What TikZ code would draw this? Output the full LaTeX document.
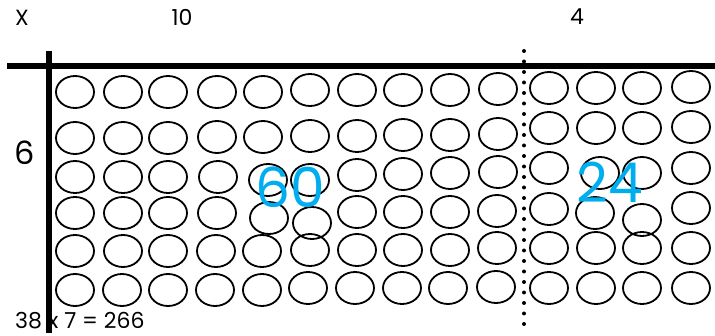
\documentclass[tikz,border=0pt]{standalone}
\usepackage{fontspec}
\setmainfont{Poppins}
\usepackage{xcolor}
\usepackage{tikz}
\usetikzlibrary{shapes.geometric}
\definecolor{countBlue}{HTML}{00AEEF}

\begin{document}
\begin{tikzpicture}[x=1pt, y=-1pt,
    bead/.style={ellipse, draw=black, line width=1.8pt, minimum width=38pt, minimum height=32pt, inner sep=0pt},
    factor/.style={font=\fontsize{22}{26}\selectfont, inner sep=0pt},
    part/.style={font=\fontsize{55}{60}\selectfont, text=countBlue, inner sep=0pt},
    bar/.style={line width=5.5pt}
  ]
  \useasboundingbox (0,0) rectangle (715,336);

  % === Beads ===
  \foreach \x/\y [count=\c] in {75/92, 123/92, 168/92, 217/92, 263/92, 310/90, 357/90, 403/90, 450/90, 498/89, 549/88, 596/88, 642/88, 691/87}
    \node[bead] (r1-\c) at (\x,\y) {};
  \foreach \x/\y [count=\c] in {75/138, 123/138, 168/138, 217/137, 263/137, 310/136, 357/136, 403/135, 450/135, 498/134, 549/128, 596/128, 642/128, 691/127}
    \node[bead] (r2-\c) at (\x,\y) {};
  \foreach \x/\y [count=\c] in {75/177, 123/177, 168/177, 218/177, 268/180, 310/180, 357/175, 403/174, 450/173, 498/172, 549/168, 600/173, 642/173, 691/168}
    \node[bead] (r3-\c) at (\x,\y) {};
  \foreach \x/\y [count=\c] in {75/213, 123/213, 168/213, 217/213, 269/218, 312/223, 357/212, 403/212, 450/212, 497/211, 549/209, 595/213, 642/220, 691/208}
    \node[bead] (r4-\c) at (\x,\y) {};
  \foreach \x/\y [count=\c] in {75/251, 123/251, 168/251, 216/251, 262/251, 310/250, 357/250, 403/250, 450/250, 497/248, 549/248, 596/248, 642/248, 691/248}
    \node[bead] (r5-\c) at (\x,\y) {};
  \foreach \x/\y [count=\c] in {75/290, 122/290, 168/290, 215/290, 262/290, 308/288, 355/288, 402/288, 448/288, 496/287, 549/288, 596/288, 642/288, 691/288}
    \node[bead] (r6-\c) at (\x,\y) {};

  % === Frame ===
  \coordinate (topL) at (7,66);
  \coordinate (topR) at (715,66);
  \coordinate (sideT) at (49,51);
  \coordinate (sideB) at (49,333);
  \coordinate (cutT) at (524,51);
  \coordinate (cutB) at (524,324);
  \draw[bar] (topL) -- (topR);
  \draw[bar] (sideT) -- (sideB);
  \draw[line width=4pt, line cap=round, dash pattern=on 0pt off 10.5pt] (cutT) -- (cutB);

  % === Labels ===
  \node[factor] (times) at (22,18) {X};
  \node[factor] (ten) at (182,17) {10};
  \node[factor] (four) at (577,17) {4};
  \node[factor, font=\fontsize{32}{36}\selectfont] (six) at (25,153) {6};
  \node[factor, anchor=base west] (sum) at (15,329) {38 x 7 = 266};

  \node[part] (sixty) at (290,187) {60};
  \node[part] (twentyfour) at (610,182) {24};
\end{tikzpicture}
\end{document}
